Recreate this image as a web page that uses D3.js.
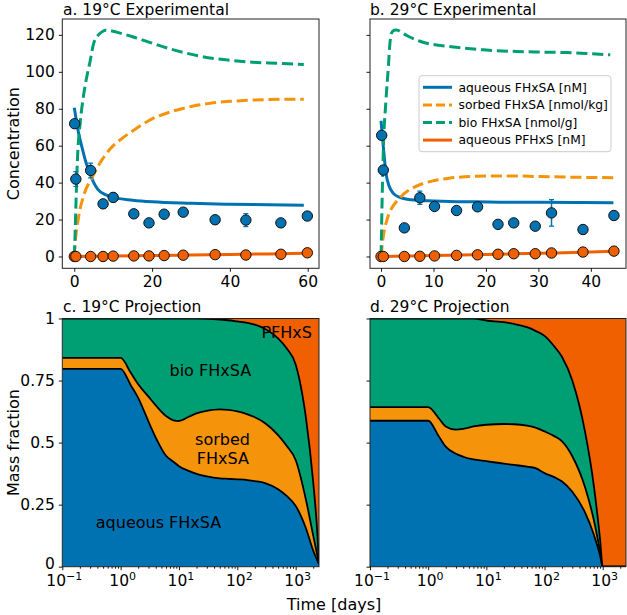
<!DOCTYPE html>
<html><head><meta charset="utf-8">
<script src="https://cdn.jsdelivr.net/npm/d3@7"></script>
<style>body{margin:0;background:#fff} svg text{font-family:"DejaVu Sans",sans-serif;fill:#000}</style>
</head><body><svg id="chart" width="627" height="615"></svg>
<script>
// ---------- colours ----------
const cBlue = "#0072B2", cOrange = "#F5930A", cGreen = "#009E73", cRed = "#F06000";

// ---------- panel a (19 C experimental) ----------
const aObsT   = [0.1, 0.4, 4.2, 7.4, 10, 15.3, 19.2, 23.1, 28, 36.2, 44.1, 53.1, 59.9];
const aAqObs  = [71.9, 41.9, 46.6, 28.5, 32, 23.1, 18.2, 22.9, 24.0, 19.9, 19.7, 18.2, 21.9];
const aAqErr  = [1.5, 4, 4, 1.5, 2.5, 1.5, 1.5, 1.5, 1.5, 1.5, 3.5, 1.5, 1.5];
const aPfT    = [0, 0.4, 4.2, 7.4, 10, 15.3, 19.2, 23.1, 28, 36.2, 44.1, 53.1, 59.9];
const aPfObs  = [0, 0, 0, 0, 0.2, 0.3, 0.3, 0.5, 0.7, 1.0, 0.8, 1.2, 2.0];

const aAqModT = [0, 0.5, 1, 2, 3, 4, 5, 6, 8, 10, 15, 20, 30, 40, 50, 59];
const aAqMod  = [80.5, 74, 68, 59, 51, 45, 40, 36.5, 33.5, 32, 30.5, 29.6, 28.8, 28.3, 28, 27.8];
const aSoModT = [0, 0.3, 1, 1.5, 2, 3, 4, 5, 6, 8, 10, 12, 15, 20, 25, 30, 35, 40, 45, 50, 59];
const aSoMod  = [0, 9, 20, 26, 30, 36.5, 40.5, 44.5, 48.5, 55, 60, 63.5, 68, 74.5, 78.5, 81.2, 83, 84, 84.6, 85, 85.2];
const aBioModT = [0, 0.2, 0.45, 0.8, 1.5, 2.3, 3, 4, 5, 6, 7, 8.3, 10, 12, 15, 20, 24, 28, 32, 36, 41, 45, 50, 55, 59];
const aBioMod  = [0, 12, 30, 52, 72, 86, 95, 105, 115.5, 119.5, 121.5, 122.6, 122, 120.8, 119, 115.5, 112.8, 110.5, 108.6, 107.2, 106, 105.3, 104.8, 104.4, 104];
const aPfModT = [0, 10, 20, 30, 40, 50, 59];
const aPfMod  = [0, 0.25, 0.5, 0.8, 1.1, 1.4, 1.7];

// ---------- panel b (29 C experimental) ----------
const bObsT   = [0.13, 0.44, 4.45, 7.4, 10.2, 14.4, 18.4, 22.3, 25.3, 29.4, 32.5, 38.5, 44.4];
const bAqObs  = [65.6, 46.8, 15.5, 31.8, 27.1, 24.9, 26.9, 17.4, 18.2, 16.4, 23.6, 14.6, 22.2];
const bAqErr  = [1.5, 1.5, 1, 3.6, 1, 1, 1, 1, 1, 1, 7.2, 1, 1];
const bPfT    = [0, 0.44, 4.45, 7.4, 10.2, 14.4, 18.4, 22.3, 25.3, 29.4, 32.5, 38.5, 44.4];
const bPfObs  = [0, 0, 0, 0.1, 0.3, 0.6, 0.9, 1.2, 1.5, 1.5, 1.9, 2.4, 2.9];

const bAqModT = [0, 0.44, 0.95, 1.6, 2.35, 3.6, 5, 6.7, 10, 13, 18, 22.5, 30, 38, 44.3];
const bAqMod  = [73.5, 59.4, 45, 37.7, 34.2, 32, 31, 30.5, 30.1, 29.8, 29.6, 29.4, 29.3, 29.2, 29.1];
const bSoModT = [0, 0.3, 0.5, 1, 1.5, 2, 3, 4, 6, 8, 10, 13, 16, 20, 25, 30, 35, 40, 44.3];
const bSoMod  = [0, 8, 12, 18.5, 23, 26, 30, 33, 37, 39.5, 41, 42.4, 43.2, 43.6, 43.6, 43.3, 43, 42.8, 42.6];
const bBioModT = [0, 0.44, 0.95, 1.4, 1.7, 2, 2.5, 3, 4, 5, 6.7, 8, 10, 13, 16, 19.5, 25.9, 30, 35.4, 40, 43.7];
const bBioMod  = [0, 57.6, 84.8, 102.8, 115.5, 121, 122.5, 122.7, 121.2, 119.5, 117.3, 116, 114.8, 113.7, 112.8, 111.9, 111, 110.7, 110.4, 109.8, 109.2];
const bPfModT = [0, 10, 20, 30, 40, 44.3];
const bPfMod  = [0, 0.5, 1.1, 1.7, 2.4, 2.8];

const concTicks = [0, 20, 40, 60, 80, 100, 120];
const aTimeTicks = [0, 20, 40, 60];
const bTimeTicks = [0, 10, 20, 30, 40];

// ---------- panel c (19 C projection) mass fractions per layer ----------
const cT    = [0.1, 1, 1.5, 2, 3, 4, 6, 8, 10, 15, 20, 30, 50, 70, 100, 150, 200, 300, 500, 700, 1000, 1500, 2000, 2300, 2512];
const cAq   = [0.797, 0.797, 0.73, 0.68, 0.585, 0.52, 0.447, 0.423, 0.405, 0.385, 0.374, 0.364, 0.356, 0.354, 0.352, 0.349, 0.345, 0.337, 0.312, 0.285, 0.245, 0.155, 0.065, 0.03, 0.01];
const cSo   = [0.044, 0.044, 0.05, 0.055, 0.10, 0.13, 0.16, 0.167, 0.182, 0.22, 0.244, 0.264, 0.278, 0.278, 0.274, 0.265, 0.257, 0.241, 0.218, 0.202, 0.185, 0.115, 0.06, 0.025, 0.002];
const cBio  = [0.159, 0.159, 0.22, 0.265, 0.315, 0.35, 0.393, 0.41, 0.413, 0.395, 0.382, 0.371, 0.362, 0.361, 0.362, 0.368, 0.373, 0.38, 0.39, 0.393, 0.385, 0.33, 0.215, 0.115, 0.002];
const cPf   = [0, 0, 0, 0, 0, 0, 0, 0, 0, 0, 0, 0.001, 0.004, 0.007, 0.012, 0.018, 0.025, 0.042, 0.08, 0.12, 0.185, 0.4, 0.66, 0.83, 0.986];

// ---------- panel d (29 C projection) ----------
const dT    = [0.1, 1, 1.5, 2, 3, 4, 6, 10, 20, 30, 50, 70, 100, 150, 200, 300, 500, 700, 900, 1000, 2512];
const dAq   = [0.588, 0.588, 0.528, 0.484, 0.455, 0.443, 0.432, 0.425, 0.415, 0.41, 0.403, 0.397, 0.377, 0.36, 0.343, 0.302, 0.217, 0.131, 0.045, 0, 0];
const dSo   = [0.055, 0.055, 0.072, 0.081, 0.097, 0.112, 0.133, 0.147, 0.16, 0.164, 0.165, 0.163, 0.168, 0.165, 0.162, 0.143, 0.101, 0.059, 0.015, 0, 0];
const dBio  = [0.357, 0.357, 0.4, 0.435, 0.448, 0.445, 0.435, 0.42, 0.41, 0.404, 0.397, 0.39, 0.385, 0.36, 0.34, 0.305, 0.222, 0.14, 0.05, 0, 0];
const dPf   = [0, 0, 0, 0, 0, 0, 0, 0.008, 0.015, 0.022, 0.035, 0.05, 0.07, 0.115, 0.155, 0.25, 0.46, 0.67, 0.89, 1, 1];

const fracTicks = [0, 0.25, 0.5, 0.75, 1];
const logMajor = [0.1, 1, 10, 100, 1000];
const logLabels = ["\u22121", "0", "1", "2", "3"];
const legendLabels = ["aqueous FHxSA [nM]", "sorbed FHxSA [nmol/kg]", "bio FHxSA [nmol/g]", "aqueous PFHxS [nM]"];

// ---------- layout ----------
const svg = d3.select("#chart");
const TICK_FS = 15.5, LABEL_FS = 16;
const topBox = {y0: 19, y1: 268.3};
const botBox = {y0: 318.5, y1: 566.7};
const leftX = [62.3, 319], rightX = [370, 626];

const yConc = d3.scaleLinear([-6.4, 128.6], [topBox.y1, topBox.y0]);
const xA = d3.scaleLinear([-3.08, 62.9], leftX);
const xB = d3.scaleLinear([-2.1, 46.7], rightX);
const xC = d3.scaleLog([0.1, 2512], leftX);
const xD = d3.scaleLog([0.1, 2512], rightX);
const yFrac = d3.scaleLinear([0, 1], [botBox.y1, botBox.y0]);

function styleAxis(g, fs) {
  g.select(".domain").remove();
  g.selectAll(".tick line").attr("stroke", "#000").attr("stroke-width", 0.9);
  g.selectAll(".tick text").attr("font-size", fs).attr("fill", "#000").attr("font-family", "DejaVu Sans, sans-serif");
}

function frame(xr, box) {
  svg.append("rect").attr("x", xr[0]).attr("y", box.y0)
    .attr("width", xr[1] - xr[0]).attr("height", box.y1 - box.y0)
    .attr("fill", "none").attr("stroke", "#222").attr("stroke-width", 1);
}

function title(x, y, txt) {
  svg.append("text").attr("x", x).attr("y", y).attr("font-size", TICK_FS).text(txt);
}

function clip(id, xr, box) {
  svg.append("clipPath").attr("id", id).append("rect")
    .attr("x", xr[0]).attr("y", box.y0).attr("width", xr[1] - xr[0]).attr("height", box.y1 - box.y0);
}

function topPanel(id, x, xr, timeTicks, showY, mods, obs) {
  clip(id, xr, topBox);
  const g = svg.append("g").attr("clip-path", `url(#${id})`);
  const line = d3.line().x(d => x(d[0])).y(d => yConc(d[1])).curve(d3.curveMonotoneX);
  mods.forEach(m => {
    g.append("path").datum(m.t.map((t, i) => [t, m.v[i]]))
      .attr("d", line).attr("fill", "none").attr("stroke", m.color).attr("stroke-width", 3)
      .attr("stroke-dasharray", m.dash ? "11.1,4.8" : null);
  });
  obs.forEach(o => {
    if (!o.err) return;
    o.t.forEach((t, i) => {
      const cx = x(t), yt = yConc(o.v[i] + o.err[i]), yb = yConc(o.v[i] - o.err[i]);
      g.append("line").attr("x1", cx).attr("x2", cx).attr("y1", yt).attr("y2", yb)
        .attr("stroke", o.color).attr("stroke-width", 1.5);
      [yt, yb].forEach(yy => g.append("line").attr("x1", cx - 2.5).attr("x2", cx + 2.5)
        .attr("y1", yy).attr("y2", yy).attr("stroke", o.color).attr("stroke-width", 1.2));
    });
  });
  obs.forEach(o => {
    g.selectAll(null).data(o.t.map((t, i) => [t, o.v[i]])).enter().append("circle")
      .attr("cx", d => x(d[0])).attr("cy", d => yConc(d[1])).attr("r", 5.2)
      .attr("fill", o.color).attr("stroke", "#111").attr("stroke-width", 1);
  });
  frame(xr, topBox);
  const ax = svg.append("g").attr("transform", `translate(0,${topBox.y1})`)
    .call(d3.axisBottom(x).tickValues(timeTicks).tickSize(3.5).tickPadding(4));
  styleAxis(ax, TICK_FS);
  const ay = svg.append("g").attr("transform", `translate(${xr[0]},0)`)
    .call(d3.axisLeft(yConc).tickValues(concTicks).tickSize(3.5).tickPadding(4)
      .tickFormat(showY ? d3.format("d") : ""));
  styleAxis(ay, TICK_FS);
}

topPanel("clipA", xA, leftX, aTimeTicks, true, [
  {t: aAqModT, v: aAqMod, color: cBlue, dash: false},
  {t: aSoModT, v: aSoMod, color: cOrange, dash: true},
  {t: aBioModT, v: aBioMod, color: cGreen, dash: true},
  {t: aPfModT, v: aPfMod, color: cRed, dash: false}
], [
  {t: aObsT, v: aAqObs, err: aAqErr, color: cBlue},
  {t: aPfT, v: aPfObs, color: cRed}
]);
topPanel("clipB", xB, rightX, bTimeTicks, false, [
  {t: bAqModT, v: bAqMod, color: cBlue, dash: false},
  {t: bSoModT, v: bSoMod, color: cOrange, dash: true},
  {t: bBioModT, v: bBioMod, color: cGreen, dash: true},
  {t: bPfModT, v: bPfMod, color: cRed, dash: false}
], [
  {t: bObsT, v: bAqObs, err: bAqErr, color: cBlue},
  {t: bPfT, v: bPfObs, color: cRed}
]);

title(63, 14.5, "a. 19\u00B0C Experimental");
title(370, 14.5, "b. 29\u00B0C Experimental");

// legend
(function () {
  const lx = 419, ly = 75.7, lw = 192, lh = 76;
  const lg = svg.append("g");
  lg.append("rect").attr("x", lx).attr("y", ly).attr("width", lw).attr("height", lh)
    .attr("rx", 3).attr("fill", "#fff").attr("fill-opacity", 0.85).attr("stroke", "#ccc").attr("stroke-width", 1);
  const cols = [cBlue, cOrange, cGreen, cRed], dashes = [false, true, true, false];
  const rows = [87.3, 104.9, 122.5, 140.1];
  legendLabels.forEach((lab, i) => {
    lg.append("line").attr("x1", 423).attr("x2", 452).attr("y1", rows[i]).attr("y2", rows[i])
      .attr("stroke", cols[i]).attr("stroke-width", 3).attr("stroke-dasharray", dashes[i] ? "9,4" : null);
    lg.append("text").attr("x", 458.5).attr("y", rows[i] + 4.3).attr("font-size", 12.3).text(lab);
  });
})();

// ---------- bottom panels ----------
function botPanel(id, x, xr, t, layers, showY) {
  clip(id, xr, botBox);
  const rows = t.map((tt, i) => ({t: tt, aq: layers[0][i], so: layers[1][i], bio: layers[2][i], pf: layers[3][i]}));
  const keys = ["aq", "so", "bio", "pf"];
  const cols = [cBlue, cOrange, cGreen, cRed];
  const series = d3.stack().keys(keys)(rows);
  const g = svg.append("g").attr("clip-path", `url(#${id})`);
  const area = d3.area().x(d => x(d.data.t)).y0(d => yFrac(d[0])).y1(d => yFrac(d[1])).curve(d3.curveMonotoneX);
  const line = d3.line().x(d => x(d.data.t)).y(d => yFrac(d[1])).curve(d3.curveMonotoneX);
  series.forEach((s, i) => g.append("path").datum(s).attr("d", area).attr("fill", cols[i]).attr("stroke", "none"));
  series.slice(0, 3).forEach(s => g.append("path").datum(s).attr("d", line)
    .attr("fill", "none").attr("stroke", "#000").attr("stroke-width", 1.8));
  frame(xr, botBox);
  const minor = [];
  [0.1, 1, 10, 100, 1000].forEach(dec => { for (let k = 2; k <= 9; k++) { const v = dec * k; if (v <= 2512) minor.push(v); } });
  const axm = svg.append("g").attr("transform", `translate(0,${botBox.y1})`)
    .call(d3.axisBottom(x).tickValues(minor).tickSize(2).tickFormat(""));
  styleAxis(axm, TICK_FS);
  const ax = svg.append("g").attr("transform", `translate(0,${botBox.y1})`)
    .call(d3.axisBottom(x).tickValues(logMajor).tickSize(3.5).tickFormat(""));
  styleAxis(ax, TICK_FS);
  logMajor.forEach((v, i) => {
    const tx = svg.append("text").attr("x", x(v) + 2).attr("y", 586).attr("text-anchor", "middle").attr("font-size", TICK_FS);
    tx.append("tspan").text("10");
    tx.append("tspan").attr("dy", -6.5).attr("font-size", 11).text(logLabels[i]);
  });
  const ay = svg.append("g").attr("transform", `translate(${xr[0]},0)`)
    .call(d3.axisLeft(yFrac).tickValues(fracTicks).tickSize(3.5).tickPadding(4)
      .tickFormat(showY ? (d => String(d)) : ""));
  styleAxis(ay, TICK_FS);
  // nudge the bottom "0" label up slightly so it clears the 10^-1 label
  ay.selectAll(".tick").filter(d => d === 0).select("text").attr("dy", "0.12em");
}

botPanel("clipC", xC, leftX, cT, [cAq, cSo, cBio, cPf], true);
botPanel("clipD", xD, rightX, dT, [dAq, dSo, dBio, dPf], false);

title(63, 311.5, "c. 19\u00B0C Projection");
title(370, 311.5, "d. 29\u00B0C Projection");

// region labels in panel c
[["PFHxS", 286.7, 338.3], ["bio FHxSA", 210.3, 375.5], ["sorbed", 222.5, 445], ["FHxSA", 222.8, 463.5], ["aqueous FHxSA", 158.5, 528.3]]
  .forEach(d => svg.append("text").attr("x", d[1]).attr("y", d[2]).attr("text-anchor", "middle")
    .attr("font-size", LABEL_FS).text(d[0]));

// axis labels
svg.append("text").attr("transform", "translate(19,143.6) rotate(-90)").attr("text-anchor", "middle")
  .attr("font-size", LABEL_FS).text("Concentration");
svg.append("text").attr("transform", "translate(19,442.6) rotate(-90)").attr("text-anchor", "middle")
  .attr("font-size", LABEL_FS).text("Mass fraction");
svg.append("text").attr("x", 334).attr("y", 609.5).attr("text-anchor", "middle")
  .attr("font-size", LABEL_FS).text("Time [days]");
</script></body></html>
